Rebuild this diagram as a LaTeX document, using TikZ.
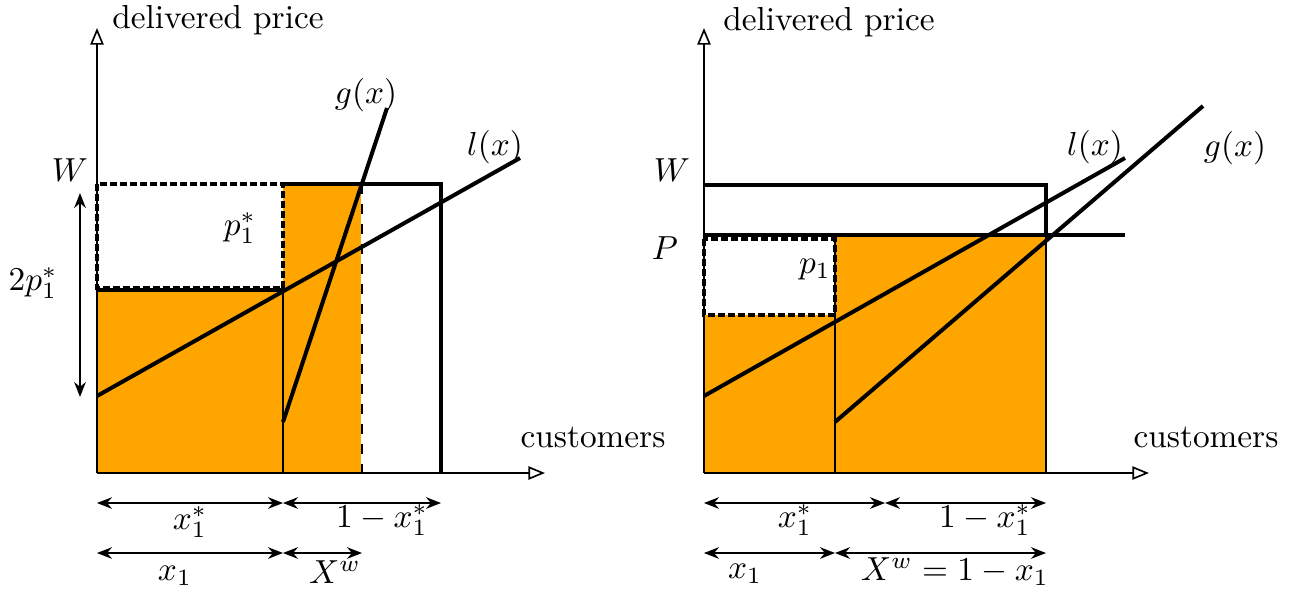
\documentclass[tikz,border=0pt]{standalone}
\usetikzlibrary{arrows.meta}
\definecolor{fillorange}{RGB}{255,165,0}
\begin{document}
\begin{tikzpicture}[x=0.3pt,y=-0.3pt,
 thickline/.style={line width=1.2pt},
 thinline/.style={line width=0.4pt},
 axisline/.style={line width=0.5pt,-{Triangle[open,length=5pt,width=4pt]}},
 dimarrow/.style={line width=0.4pt,{Stealth[length=4.5pt,width=3.5pt]}-{Stealth[length=4.5pt,width=3.5pt]}},
 dashbox/.style={line width=1.2pt,dash pattern=on 2pt off 1pt},
 lbl/.style={inner sep=1pt}]
\useasboundingbox (0,0) rectangle (1300,594);
% ---------------- left panel ----------------
\coordinate (LO) at (97,473);
\coordinate (LYt) at (97,28);
\coordinate (LXt) at (545,473);
\coordinate (LA) at (283,473);
\coordinate (LB) at (362,473);
\coordinate (LC) at (441,473);
\fill[fillorange] (97,289) rectangle (283,473);
\fill[fillorange] (283,184) rectangle (362,473);
\draw[axisline] (LO) -- (LYt);
\draw[axisline] (LO) -- (LXt);
\draw[thinline] (283,289) -- (LA);
\draw[white,line width=0.5pt] (362,184) -- (LB);
\draw[thinline,dashed] (362,184) -- (LB);
\draw[thickline] (283,184) -- (441,184) -- (LC);
\draw[thickline] (97,290) -- (283,290);
\draw[dashbox] (97,184) rectangle (283,288);
\coordinate (Ll0) at (97,396);
\coordinate (Ll1) at (520,158);
\coordinate (Lg0) at (283,422);
\coordinate (Lg1) at (387,108);
\draw[thickline] (Ll0) -- (Ll1);
\draw[thickline] (Lg0) -- (Lg1);
\node[lbl] (Ldp) at (218,20) {delivered price};
\node[lbl] (Lcu) at (593,437) {customers};
\node[lbl] (LW) at (70,170) {$W$};
\node[lbl] (Lp) at (240,228) {$p_1^*$};
\node[lbl] (L2p) at (33,283) {$2p_1^*$};
\node[lbl] (Llx) at (495,147) {$l(x)$};
\node[lbl] (Lgx) at (366,95) {$g(x)$};
\coordinate (Ld0) at (80,193);
\coordinate (Ld1) at (80,397);
\draw[dimarrow] (Ld0) -- (Ld1);
\coordinate (Lr1a) at (97,503);
\coordinate (Lr1b) at (283,503);
\coordinate (Lr1c) at (441,503);
\coordinate (Lr2a) at (97,553);
\coordinate (Lr2b) at (283,553);
\coordinate (Lr2c) at (362,553);
\draw[dimarrow] (Lr1a) -- (Lr1b);
\draw[dimarrow] (Lr1b) -- (Lr1c);
\draw[dimarrow] (Lr2a) -- (Lr2b);
\draw[dimarrow] (Lr2b) -- (Lr2c);
\node[lbl] (Lx1s) at (190,522) {$x_1^*$};
\node[lbl] (L1x1s) at (382,520) {$1-x_1^*$};
\node[lbl] (Lx1) at (175,576) {$x_1$};
\node[lbl] (LXw) at (335,572) {$X^w$};
% ---------------- right panel ----------------
\coordinate (RO) at (704,473);
\coordinate (RYt) at (704,28);
\coordinate (RXt) at (1149,473);
\coordinate (RA) at (835,473);
\coordinate (RC) at (1046,473);
\fill[fillorange] (704,315) rectangle (835,473);
\fill[fillorange] (835,237) rectangle (1046,473);
\draw[axisline] (RO) -- (RYt);
\draw[axisline] (RO) -- (RXt);
\draw[thinline] (835,237) -- (RA);
\draw[thinline] (1046,237) -- (RC);
\draw[thickline] (704,185) -- (1046,185) -- (1046,236);
\draw[thickline] (704,235) -- (1125,235);
\draw[dashbox] (704,239) rectangle (835,315);
\coordinate (Rl0) at (704,396);
\coordinate (Rl1) at (1125,158);
\coordinate (Rg0) at (835,422);
\coordinate (Rg1) at (1203,106);
\draw[thickline] (Rl0) -- (Rl1);
\draw[thickline] (Rg0) -- (Rg1);
\node[lbl] (Rdp) at (829,22) {delivered price};
\node[lbl] (Rcu) at (1206,437) {customers};
\node[lbl] (RW) at (672,170) {$W$};
\node[lbl] (RP) at (665,248) {$P$};
\node[lbl] (Rp) at (815,270) {$p_1$};
\node[lbl] (Rlx) at (1095,147) {$l(x)$};
\node[lbl] (Rgx) at (1235,148) {$g(x)$};
\coordinate (Rr1a) at (704,503);
\coordinate (Rr1b) at (885,503);
\coordinate (Rr1c) at (1046,503);
\coordinate (Rr2a) at (704,553);
\coordinate (Rr2b) at (835,553);
\coordinate (Rr2c) at (1046,553);
\draw[dimarrow] (Rr1a) -- (Rr1b);
\draw[dimarrow] (Rr1b) -- (Rr1c);
\draw[dimarrow] (Rr2a) -- (Rr2b);
\draw[dimarrow] (Rr2b) -- (Rr2c);
\node[lbl] (Rx1s) at (795,520) {$x_1^*$};
\node[lbl] (R1x1s) at (985,520) {$1-x_1^*$};
\node[lbl] (Rx1) at (745,574) {$x_1$};
\node[lbl] (RXw) at (955,572) {$X^w=1-x_1$};
\end{tikzpicture}
\end{document}
